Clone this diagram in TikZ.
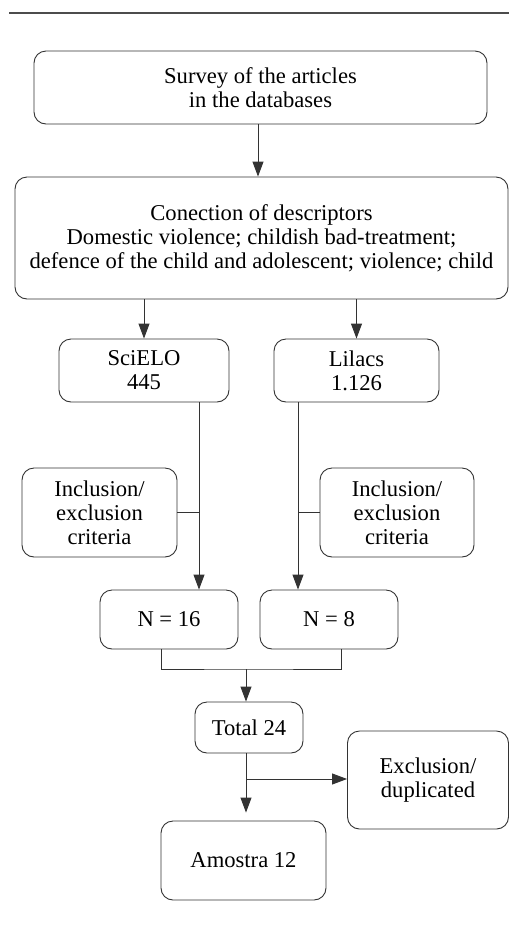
\documentclass[tikz,border=0pt]{standalone}
\usepackage{fontspec}
\setmainfont{Liberation Serif}
\usetikzlibrary{arrows.meta}
\begin{document}
\begin{tikzpicture}[x=1pt, y=-1pt,
  box/.style={draw=black!80, line width=0.9pt, rounded corners=12pt, align=center,
    inner sep=0pt, font=\fontsize{22.6}{24}\selectfont},
  arr/.style={-{Triangle[length=15pt,width=11pt]}, line width=0.9pt, draw=black!80},
  ln/.style={line width=0.9pt, draw=black!80}]
\useasboundingbox (0,0) rectangle (509,930);
\draw[line width=1.2pt, black!70] (9,13) -- (509,13); % top rule

% boxes
\node[box, minimum width=453pt, minimum height=73pt] (survey) at (260.5,87.5)
  {Survey of the articles\\in the databases};
\node[box, minimum width=493pt, minimum height=122pt] (descr) at (261.5,238)
  {Conection of descriptors\\Domestic violence; childish bad-treatment;\\defence of the child and adolescent; violence; child};
\node[box, minimum width=170pt, minimum height=63pt] (scielo) at (144,370.5) {SciELO\\445};
\node[box, minimum width=165pt, minimum height=63pt] (lilacs) at (356.5,370.5) {Lilacs\\1.126};
\node[box, minimum width=155pt, minimum height=89pt] (critL) at (99.5,512.5) {Inclusion/\\exclusion\\criteria};
\node[box, minimum width=154pt, minimum height=89pt] (critR) at (397,512.5) {Inclusion/\\exclusion\\criteria};
\node[box, minimum width=138pt, minimum height=59pt] (nS) at (169,619.5) {N = 16};
\node[box, minimum width=138pt, minimum height=59pt] (nL) at (329,619.5) {N = 8};
\node[box, minimum width=108pt, minimum height=51pt] (total) at (249,727.5) {Total 24};
\node[box, minimum width=161pt, minimum height=98pt] (excl) at (428,780) {Exclusion/\\duplicated};
\node[box, minimum width=165pt, minimum height=79pt] (amostra) at (243.5,860.5) {Amostra 12};

% branch points
\coordinate (top) at ([xshift=-2.5pt]survey.south);
\coordinate (sTop) at ([xshift=55pt]scielo.south);
\coordinate (lTop) at ([xshift=-58.5pt]lilacs.south);
\coordinate (sBot) at ([xshift=-8pt]nS.south);
\coordinate (lBot) at ([xshift=12pt]nL.south);
\coordinate (merge) at (246,669);
\coordinate (split) at (246,779);

% connectors
\draw[arr] (top) -- (top |- descr.north);
\draw[arr] (scielo.north |- descr.south) -- (scielo.north);
\draw[arr] (lilacs.north |- descr.south) -- (lilacs.north);
\draw[arr] (sTop) -- (sTop |- nS.north);
\draw[arr] (lTop) -- (lTop |- nL.north);
\draw[ln] (critL.east) -- (critL.east -| sTop);
\draw[ln] (critR.west) -- (critR.west -| lTop);
\draw[ln] (sBot) |- (merge) -| (lBot);
\draw[arr] (merge) -- (merge |- total.north);
\draw[arr, shorten >=8pt] (merge |- total.south) -- (merge |- amostra.north);
\draw[arr] (split) -- (split -| excl.west);
\end{tikzpicture}
\end{document}
